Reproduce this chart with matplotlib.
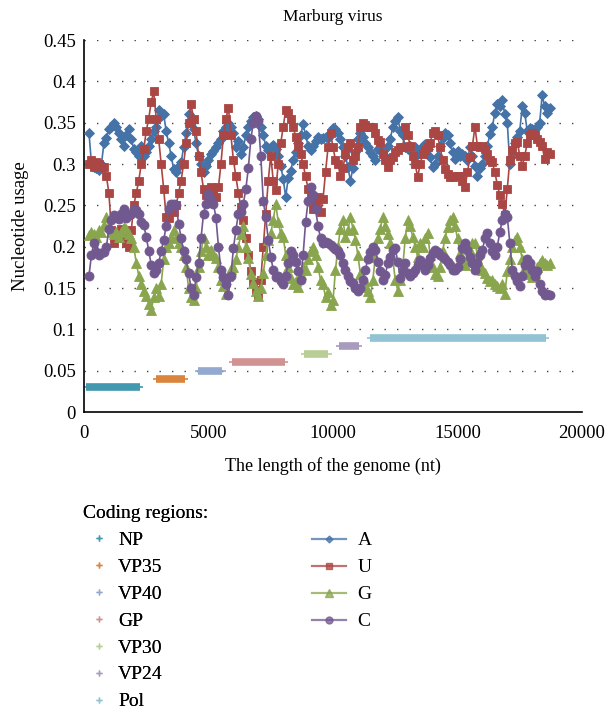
import numpy as np
import matplotlib
matplotlib.use("Agg")
import matplotlib.pyplot as plt
from matplotlib.lines import Line2D

# Pozycje okien w genomie (nt)
positions = np.arange(200, 18800, 100)

# Udział nukleotydów w kolejnych oknach
usage_A = [
    0.338, 0.300, 0.297, 0.295, 0.293, 0.300, 0.325, 0.332, 0.342, 0.345,
    0.350, 0.345, 0.338, 0.330, 0.322, 0.335, 0.342, 0.330, 0.318, 0.315,
    0.310, 0.322, 0.310, 0.315, 0.322, 0.330, 0.340, 0.345, 0.365, 0.358,
    0.360, 0.340, 0.325, 0.310, 0.294, 0.290, 0.298, 0.302, 0.320, 0.337,
    0.360, 0.350, 0.342, 0.325, 0.310, 0.300, 0.290, 0.298, 0.305, 0.312,
    0.316, 0.320, 0.325, 0.330, 0.340, 0.345, 0.350, 0.345, 0.337, 0.320,
    0.328, 0.312, 0.320, 0.335, 0.345, 0.352, 0.357, 0.358, 0.355, 0.345,
    0.335, 0.322, 0.317, 0.320, 0.323, 0.318, 0.310, 0.298, 0.282, 0.260,
    0.283, 0.292, 0.305, 0.315, 0.325, 0.335, 0.348, 0.335, 0.322, 0.317,
    0.322, 0.328, 0.333, 0.330, 0.332, 0.333, 0.332, 0.337, 0.344, 0.342,
    0.338, 0.330, 0.320, 0.310, 0.296, 0.280, 0.295, 0.315, 0.330, 0.337,
    0.333, 0.326, 0.320, 0.315, 0.310, 0.305, 0.318, 0.320, 0.316, 0.310,
    0.322, 0.330, 0.345, 0.352, 0.357, 0.340, 0.335, 0.320, 0.318, 0.322,
    0.318, 0.320, 0.312, 0.316, 0.322, 0.324, 0.318, 0.308, 0.296, 0.300,
    0.310, 0.322, 0.332, 0.337, 0.335, 0.325, 0.315, 0.306, 0.316, 0.310,
    0.312, 0.310, 0.305, 0.320, 0.310, 0.298, 0.285, 0.295, 0.300, 0.310,
    0.322, 0.336, 0.345, 0.362, 0.372, 0.370, 0.377, 0.360, 0.350, 0.300,
    0.310, 0.325, 0.333, 0.340, 0.370, 0.362, 0.340, 0.343, 0.342, 0.342,
    0.345, 0.350, 0.383, 0.370, 0.362, 0.368,
]
usage_U = [
    0.300, 0.305, 0.297, 0.302, 0.300, 0.297, 0.296, 0.285, 0.265, 0.220,
    0.205, 0.210, 0.215, 0.222, 0.210, 0.205, 0.200, 0.220, 0.250, 0.265,
    0.280, 0.300, 0.318, 0.340, 0.355, 0.375, 0.388, 0.355, 0.330, 0.300,
    0.270, 0.236, 0.235, 0.244, 0.242, 0.250, 0.265, 0.280, 0.300, 0.325,
    0.350, 0.372, 0.355, 0.340, 0.310, 0.290, 0.270, 0.262, 0.262, 0.272,
    0.265, 0.260, 0.272, 0.300, 0.335, 0.355, 0.368, 0.335, 0.305, 0.285,
    0.265, 0.248, 0.232, 0.210, 0.190, 0.170, 0.157, 0.148, 0.140, 0.160,
    0.200, 0.240, 0.280, 0.310, 0.280, 0.268, 0.300, 0.325, 0.345, 0.365,
    0.362, 0.355, 0.345, 0.333, 0.322, 0.312, 0.300, 0.285, 0.270, 0.260,
    0.245, 0.252, 0.260, 0.242, 0.258, 0.290, 0.320, 0.338, 0.320, 0.305,
    0.300, 0.285, 0.295, 0.312, 0.320, 0.325, 0.305, 0.310, 0.320, 0.345,
    0.350, 0.347, 0.345, 0.345, 0.345, 0.338, 0.329, 0.327, 0.312, 0.305,
    0.296, 0.305, 0.308, 0.315, 0.317, 0.320, 0.320, 0.345, 0.335, 0.322,
    0.310, 0.300, 0.284, 0.300, 0.312, 0.317, 0.320, 0.325, 0.338, 0.340,
    0.335, 0.320, 0.305, 0.294, 0.288, 0.284, 0.284, 0.286, 0.286, 0.285,
    0.280, 0.272, 0.290, 0.308, 0.322, 0.345, 0.322, 0.320, 0.322, 0.318,
    0.312, 0.305, 0.302, 0.290, 0.275, 0.262, 0.252, 0.238, 0.270, 0.305,
    0.317, 0.325, 0.327, 0.310, 0.298, 0.310, 0.325, 0.335, 0.337, 0.335,
    0.330, 0.327, 0.322, 0.306, 0.315, 0.312,
]
usage_G = [
    0.214, 0.218, 0.215, 0.212, 0.220, 0.218, 0.226, 0.236, 0.225, 0.218,
    0.215, 0.218, 0.212, 0.218, 0.224, 0.222, 0.215, 0.210, 0.200, 0.180,
    0.165, 0.155, 0.147, 0.140, 0.131, 0.123, 0.139, 0.150, 0.140, 0.155,
    0.185, 0.200, 0.205, 0.212, 0.220, 0.210, 0.204, 0.200, 0.190, 0.175,
    0.150, 0.139, 0.135, 0.150, 0.175, 0.195, 0.210, 0.200, 0.190, 0.196,
    0.190, 0.186, 0.175, 0.160, 0.152, 0.143, 0.165, 0.173, 0.175, 0.185,
    0.200, 0.215, 0.225, 0.200, 0.186, 0.167, 0.156, 0.147, 0.140, 0.150,
    0.168, 0.190, 0.208, 0.216, 0.232, 0.252, 0.230, 0.216, 0.212, 0.190,
    0.175, 0.162, 0.155, 0.158, 0.151, 0.167, 0.175, 0.172, 0.185, 0.195,
    0.200, 0.190, 0.175, 0.160, 0.155, 0.139, 0.145, 0.130, 0.135, 0.172,
    0.200, 0.222, 0.232, 0.212, 0.220, 0.236, 0.222, 0.208, 0.190, 0.167,
    0.151, 0.158, 0.147, 0.139, 0.160, 0.188, 0.210, 0.222, 0.236, 0.225,
    0.215, 0.205, 0.185, 0.160, 0.147, 0.160, 0.175, 0.210, 0.232, 0.225,
    0.212, 0.200, 0.188, 0.204, 0.200, 0.210, 0.216, 0.190, 0.175, 0.167,
    0.165, 0.175, 0.195, 0.210, 0.224, 0.232, 0.236, 0.225, 0.210, 0.192,
    0.184, 0.178, 0.185, 0.196, 0.204, 0.205, 0.190, 0.178, 0.172, 0.168,
    0.162, 0.158, 0.160, 0.155, 0.152, 0.150, 0.155, 0.143, 0.170, 0.185,
    0.200, 0.208, 0.212, 0.200, 0.185, 0.175, 0.170, 0.167, 0.163, 0.168,
    0.175, 0.180, 0.184, 0.180, 0.178, 0.180,
]
usage_C = [
    0.165, 0.190, 0.205, 0.193, 0.190, 0.192, 0.193, 0.200, 0.222, 0.232,
    0.238, 0.236, 0.234, 0.240, 0.246, 0.235, 0.238, 0.240, 0.246, 0.244,
    0.240, 0.230, 0.226, 0.212, 0.195, 0.178, 0.168, 0.172, 0.180, 0.195,
    0.208, 0.225, 0.245, 0.252, 0.252, 0.250, 0.228, 0.210, 0.195, 0.185,
    0.168, 0.150, 0.142, 0.163, 0.180, 0.210, 0.240, 0.252, 0.264, 0.258,
    0.252, 0.235, 0.200, 0.172, 0.163, 0.155, 0.142, 0.165, 0.198, 0.220,
    0.240, 0.242, 0.252, 0.270, 0.295, 0.330, 0.350, 0.358, 0.352, 0.310,
    0.255, 0.236, 0.208, 0.188, 0.172, 0.163, 0.165, 0.158, 0.155, 0.165,
    0.180, 0.195, 0.190, 0.182, 0.170, 0.160, 0.190, 0.230, 0.255, 0.272,
    0.262, 0.245, 0.225, 0.210, 0.205, 0.206, 0.204, 0.202, 0.200, 0.197,
    0.195, 0.190, 0.180, 0.172, 0.165, 0.159, 0.156, 0.150, 0.147, 0.150,
    0.160, 0.172, 0.185, 0.193, 0.200, 0.196, 0.182, 0.170, 0.160, 0.166,
    0.180, 0.188, 0.196, 0.198, 0.182, 0.162, 0.172, 0.180, 0.168, 0.164,
    0.168, 0.172, 0.178, 0.184, 0.180, 0.172, 0.178, 0.186, 0.192, 0.196,
    0.194, 0.190, 0.188, 0.185, 0.182, 0.178, 0.172, 0.172, 0.176, 0.185,
    0.198, 0.204, 0.196, 0.188, 0.180, 0.172, 0.180, 0.190, 0.196, 0.210,
    0.216, 0.205, 0.195, 0.190, 0.200, 0.218, 0.232, 0.240, 0.236, 0.205,
    0.172, 0.165, 0.158, 0.152, 0.165, 0.178, 0.185, 0.180, 0.172, 0.165,
    0.170, 0.155, 0.147, 0.142, 0.143, 0.142,
]

# Regiony kodujące: nazwa, początek, koniec, poziom na osi Y
region_names = ["NP", "VP35", "VP40", "GP", "VP30", "VP24", "Pol"]
region_start = [100, 2885, 4575, 5950, 8830, 10240, 11505]
region_end = [2255, 4040, 5560, 8080, 9815, 11035, 18560]
region_level = [0.03, 0.04, 0.05, 0.06, 0.07, 0.08, 0.09]
region_colors = ["#4198AF", "#DB843D", "#93A9CF", "#D19392", "#B9CD96", "#A99BBD", "#91C3D5"]

series_names = ["A", "U", "G", "C"]
series_colors = ["#4572A7", "#AA4643", "#89A54E", "#71588F"]
series_markers = ["D", "s", "^", "o"]
series_msize = [5, 6, 7, 6.5]

y_ticks = [0, 0.05, 0.1, 0.15, 0.2, 0.25, 0.3, 0.35, 0.4, 0.45]
x_ticks = [0, 5000, 10000, 15000, 20000]

plt.rcParams["font.family"] = ["Liberation Serif", "DejaVu Serif"]

fig = plt.figure(figsize=(6.1, 7.12), dpi=100)
ax = fig.add_axes([0.1377, 0.4213, 0.8164, 0.5225])

# Siatka pozioma (kropkowana)
for yv in y_ticks[1:]:
    ax.axhline(yv, color="#444444", lw=1.0, ls=(0, (1, 8)), zorder=0)

# Regiony kodujące
region_handles = []
for name, s, e, lvl, c in zip(region_names, region_start, region_end, region_level, region_colors):
    ax.plot([s - 130, e + 130], [lvl, lvl], color=c, lw=1.2, solid_capstyle="butt", zorder=2)
    ax.plot([s, e], [lvl, lvl], color=c, lw=5.5, solid_capstyle="butt", zorder=2)
    region_handles.append(Line2D([], [], color=c, marker="+", ls="none", markersize=5, mew=1.0, label=name))

# Serie nukleotydów
series_values = [usage_A, usage_U, usage_G, usage_C]
series_handles = []
for name, vals, c, m, ms in zip(series_names, series_values, series_colors, series_markers, series_msize):
    ax.plot(positions, vals, color=c, lw=1.2, marker=m, markersize=ms,
            markeredgecolor=c, markeredgewidth=0.6, label=name, zorder=3)
    series_handles.append(Line2D([], [], color=c, lw=1.6, alpha=0.75, marker=m,
                                 markersize=ms - 1.5, markerfacecolor=c, markeredgecolor=c, label=name))

ax.set_xlim(0, 20000)
ax.set_ylim(0, 0.45)
ax.set_yticks(y_ticks)
ax.set_yticklabels(["{:g}".format(v) for v in y_ticks])
ax.set_xticks(x_ticks)
ax.set_xticklabels([str(v) for v in x_ticks])
ax.tick_params(axis="y", length=0, labelsize=13.5, pad=6)
ax.tick_params(axis="x", length=0, labelsize=13.5, pad=9)

for side in ["top", "right"]:
    ax.spines[side].set_visible(False)
for side in ["left", "bottom"]:
    ax.spines[side].set_color("black")
    ax.spines[side].set_linewidth(1.2)

ax.set_title("Marburg virus", fontsize=12.5, pad=14)
ax.set_xlabel("The length of the genome (nt)", fontsize=13, labelpad=11)
ax.set_ylabel("Nucleotide usage", fontsize=13.5, labelpad=10)

# Legendy pod wykresem
leg1 = fig.legend(handles=region_handles, title="Coding regions:", loc="upper left",
                  bbox_to_anchor=(0.136, 0.291), frameon=False, fontsize=14,
                  title_fontsize=14, alignment="left", handlelength=1.7,
                  handletextpad=0.1, labelspacing=0.48, borderpad=0, borderaxespad=0)
leg2 = fig.legend(handles=series_handles, loc="upper left",
                  bbox_to_anchor=(0.511, 0.253), frameon=False, fontsize=14,
                  handlelength=1.75, handletextpad=0.6, labelspacing=0.48,
                  borderpad=0, borderaxespad=0)
fig.add_artist(leg1)

fig.savefig("out.png", dpi=100)
